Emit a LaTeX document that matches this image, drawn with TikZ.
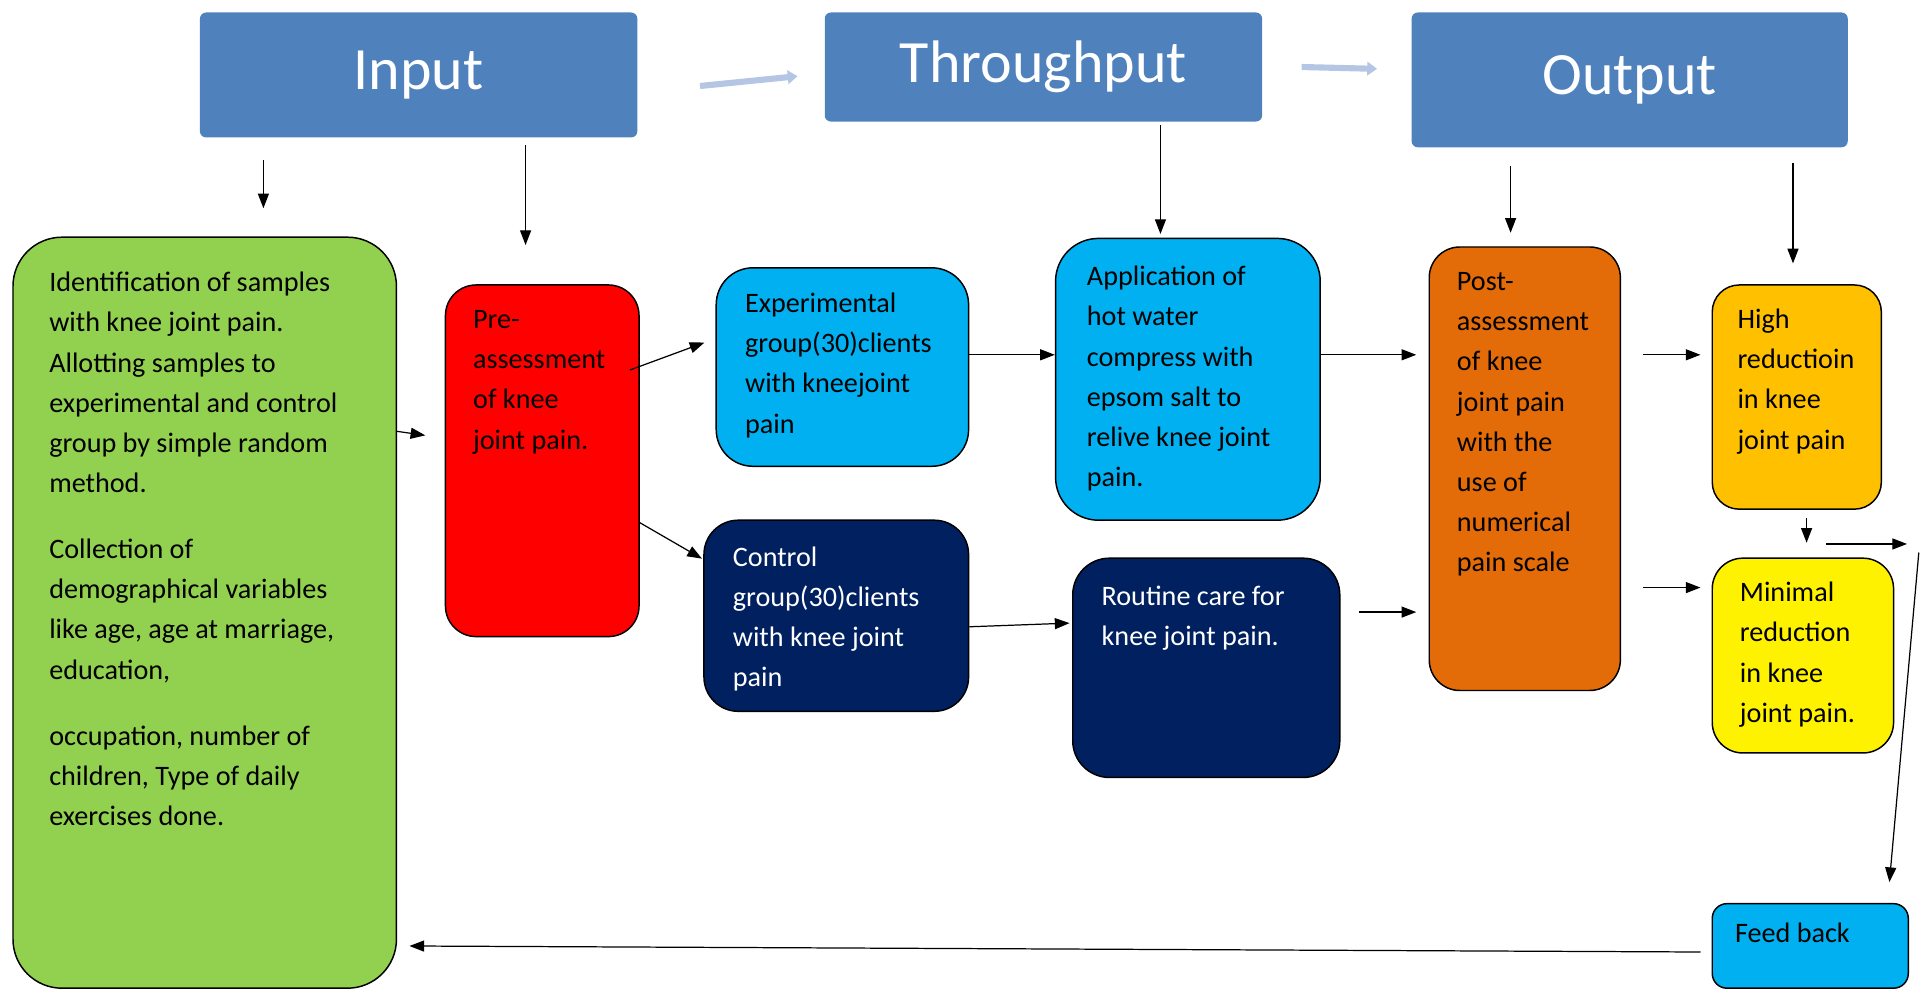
\documentclass[tikz,border=0pt]{standalone}
\usepackage{fontspec}
\setmainfont{Carlito}
\usetikzlibrary{arrows.meta}

\definecolor{hdrblue}{HTML}{4F81BD}
\definecolor{hdrarrow}{HTML}{B4C6E4}
\definecolor{leafgreen}{HTML}{92D050}
\definecolor{skyblue}{HTML}{00B0F0}
\definecolor{navyblue}{HTML}{002060}
\definecolor{burnt}{HTML}{E36C09}
\definecolor{amber}{HTML}{FFC000}

\newcommand{\bodyfont}{\fontsize{23}{32.8}\selectfont}

\tikzset{
  hdr/.style={fill=hdrblue, rounded corners=5pt, text=white, inner sep=0,
    anchor=north west, font=\fontsize{49}{58}\selectfont},
  flowbox/.style={draw=black, line width=1.2pt, anchor=north west, inner sep=0},
  boxtext/.style={anchor=north west, inner sep=0, align=left, font=\bodyfont},
  arr/.style={-{Triangle[length=12pt,width=9pt]}, line width=1pt},
  blockarr/.style={-{Triangle[length=8pt,width=11pt]}, line width=5pt, draw=hdrarrow}
}

\begin{document}
\begin{tikzpicture}[x=1pt,y=-1pt]
    \useasboundingbox (0,0) rectangle (1568,808);
    % Header boxes
    \node[hdr, minimum width=357pt, minimum height=102pt] (input) at (163,10) {Input};
    \node[hdr, minimum width=357pt, minimum height=89pt] (thru) at (673,10) {Throughput};
    \node[hdr, minimum width=356pt, minimum height=110pt] (outp) at (1152,10) {Output};
    \draw[blockarr] ([xshift=51pt,yshift=-9pt]input.east) -- ([xshift=-22pt,yshift=-7.5pt]thru.west);
    \draw[blockarr] ([xshift=32pt]thru.east) -- ([xshift=-28pt,yshift=9pt]outp.west);

    % Input column
    \node[flowbox, fill=leafgreen, rounded corners=40pt, minimum width=313pt, minimum height=613pt] (ident) at (10,193) {};
    \node[boxtext] (ident-t) at ([xshift=30pt,yshift=-22pt]ident.north west)
      {\strut Identification of samples\\ with knee joint pain.\\ Allotting samples to\\ experimental and control\\
       group by simple random\\ method.\\[21pt] Collection of\\ demographical variables\\ like age, age at marriage,\\
       education,\\[21pt] occupation, number of\\ children, Type of daily\\ exercises done.};
    \node[flowbox, fill=red, rounded corners=25pt, minimum width=158pt, minimum height=287pt] (pre) at (363,232) {};
    \node[boxtext] (pre-t) at ([xshift=23pt,yshift=-13pt]pre.north west)
      {\strut Pre-\\ assessment\\ of knee\\ joint pain.};

    % Throughput column
    \node[flowbox, fill=skyblue, rounded corners=30pt, minimum width=206pt, minimum height=162pt] (expg) at (584,218) {};
    \node[boxtext] (expg-t) at ([xshift=24pt,yshift=-14pt]expg.north west)
      {\strut Experimental\\ group(30)clients\\ with kneejoint\\ pain};
    \node[flowbox, fill=navyblue, rounded corners=28pt, minimum width=216pt, minimum height=156pt] (ctrl) at (574,424) {};
    \node[boxtext, text=white] (ctrl-t) at ([xshift=24pt,yshift=-15pt]ctrl.north west)
      {\strut Control\\ group(30)clients\\ with knee joint\\ pain};
    \node[flowbox, fill=skyblue, rounded corners=35pt, minimum width=216pt, minimum height=230pt] (appl) at (861,194) {};
    \node[boxtext] (appl-t) at ([xshift=26pt,yshift=-16pt]appl.north west)
      {\strut Application of\\ hot water\\ compress with\\ epsom salt to\\ relive knee joint\\ pain.};
    \node[flowbox, fill=navyblue, rounded corners=30pt, minimum width=218pt, minimum height=179pt] (rout) at (875,455) {};
    \node[boxtext, text=white] (rout-t) at ([xshift=24pt,yshift=-16pt]rout.north west)
      {\strut Routine care for\\ knee joint pain.};

    % Output column
    \node[flowbox, fill=burnt, rounded corners=25pt, minimum width=156pt, minimum height=362pt] (post) at (1166,201) {};
    \node[boxtext] (post-t) at ([xshift=23pt,yshift=-13pt]post.north west)
      {\strut Post-\\ assessment\\ of knee\\ joint pain\\ with the\\ use of\\ numerical\\ pain scale};
    \node[flowbox, fill=amber, rounded corners=22pt, minimum width=138pt, minimum height=183pt] (high) at (1397,232) {};
    \node[boxtext] (high-t) at ([xshift=21pt,yshift=-13pt]high.north west)
      {\strut High\\ reductioin\\ in knee\\ joint pain};
    \node[flowbox, fill=yellow, rounded corners=25pt, minimum width=148pt, minimum height=159pt] (minr) at (1397,455) {};
    \node[boxtext] (minr-t) at ([xshift=23pt,yshift=-13pt]minr.north west)
      {\strut Minimal\\ reduction\\ in knee\\ joint pain.};
    \node[flowbox, fill=skyblue, rounded corners=12pt, minimum width=160pt, minimum height=69pt] (feed) at (1397,737) {};
    \node[boxtext] (feed-t) at ([xshift=19pt,yshift=-9pt]feed.north west) {\strut Feed back};

    % Arrows down from the headers
    \coordinate (a1) at ([xshift=52pt,yshift=-18pt]input.south west);
    \draw[arr, shorten >=23pt] (a1) -- (a1 |- ident.north);
    \coordinate (a2) at ([xshift=266pt,yshift=-6pt]input.south west);
    \draw[arr, shorten >=32pt] (a2) -- (a2 |- pre.north);
    \coordinate (a3) at ([xshift=95.5pt,yshift=-3pt]thru.south);
    \draw[arr, shorten >=3pt] (a3) -- (a3 |- appl.north);
    \coordinate (a4) at ([xshift=81pt,yshift=-15pt]outp.south west);
    \draw[arr, shorten >=11pt] (a4) -- (a4 |- post.north);
    \coordinate (a5) at ([xshift=311.5pt,yshift=-13pt]outp.south west);
    \draw[arr, shorten >=17pt] (a5) -- (a5 |- high.north);

    % Arrows between the boxes
    \draw[arr, shorten >=16pt] ([yshift=148pt]ident.east) -- ([yshift=18.5pt]pre.west);
    \draw[arr] ([xshift=-8pt,yshift=-70pt]pre.north east) -- ([xshift=-9pt,yshift=20pt]expg.west);
    \draw[arr] ([yshift=-50.5pt]pre.east) -- ([xshift=-1pt,yshift=-32pt]ctrl.north west);
    \coordinate (a9) at ([yshift=10pt]expg.east);
    \draw[arr] (a9) -- (a9 -| appl.west);
    \draw[arr] ([yshift=-9pt]ctrl.east) -- ([xshift=-2pt,yshift=36.5pt]rout.west);
    \coordinate (a11) at ([yshift=20pt]appl.east);
    \draw[arr, shorten >=10pt] (a11) -- (a11 -| post.west);
    \coordinate (a12) at ([xshift=15pt,yshift=45.5pt]rout.east);
    \draw[arr, shorten >=10pt] (a12) -- (a12 -| post.west);
    \coordinate (a13) at ([xshift=18pt,yshift=93pt]post.east);
    \draw[arr, shorten >=9pt] (a13) -- (a13 -| high.west);
    \coordinate (a14) at ([xshift=18pt,yshift=-97pt]post.east);
    \draw[arr, shorten >=9pt] (a14) -- (a14 -| minr.west);
    \coordinate (a15) at ([xshift=8pt,yshift=-7pt]high.south);
    \draw[arr, shorten >=12pt] (a15) -- (a15 |- minr.north);

    % Feed back loop
    \coordinate (fb1) at ([xshift=19pt,yshift=11pt]minr.north);
    \coordinate (fb2) at ([xshift=66pt]fb1);
    \draw[arr] (fb1) -- (fb2);
    \coordinate (fb3) at ([xshift=20pt,yshift=4pt]minr.north east);
    \draw[arr] (fb3) -- ([xshift=-16pt,yshift=17pt]feed.north east);
    \draw[arr, shorten <=9pt, shorten >=10pt] ([yshift=-5pt]feed.west) -- (feed.west -| ident.east);
\end{tikzpicture}
\end{document}
